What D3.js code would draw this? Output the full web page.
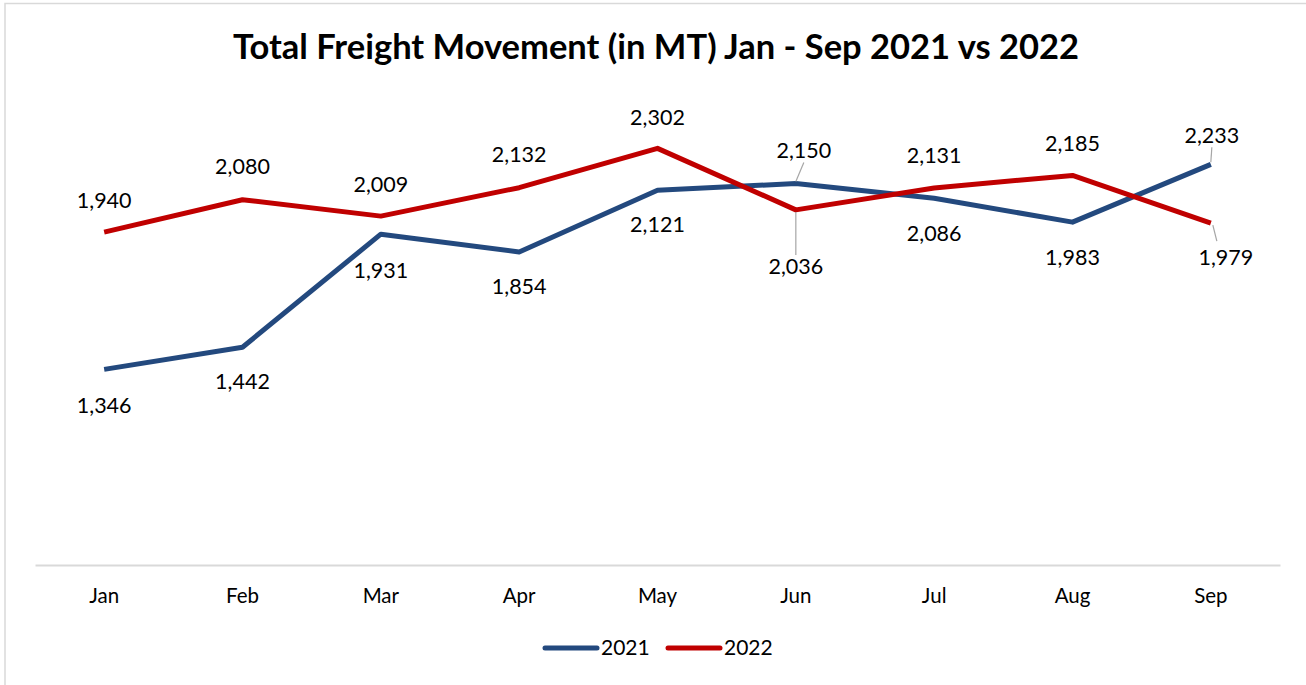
<!DOCTYPE html>
<html>
<head>
<meta charset="utf-8">
<script src="https://cdn.jsdelivr.net/npm/d3@7"></script>
<style>
  html, body { margin: 0; padding: 0; background: #fff; }
  svg { display: block; }
</style>
</head>
<body>
<svg id="chart" width="1306" height="685"></svg>
<script>
const months = ["Jan", "Feb", "Mar", "Apr", "May", "Jun", "Jul", "Aug", "Sep"];
const values2021 = [1346, 1442, 1931, 1854, 2121, 2150, 2086, 1983, 2233];
const values2022 = [1940, 2080, 2009, 2132, 2302, 2036, 2131, 2185, 1979];
const seriesNames = ["2021", "2022"];
const titleText = "Total Freight Movement (in MT) Jan - Sep 2021 vs 2022";

// label placement (offset of label centre from its point), not data
const labelDx2021 = [0, 0, 0, 0, 0, 8, 0, 0, 1];
const labelDy2021 = [36, 34, 36, 35, 34, -33, 35, 35, -29];
const leader2021  = [0, 0, 0, 0, 0, 1, 0, 0, 1];
const labelDx2022 = [0, 0, 0, 0, 0, 0, 0, 0, 15];
const labelDy2022 = [-32, -33, -32, -33, -31, 57, -32, -32, 34];
const leader2022  = [0, 0, 0, 0, 0, 1, 0, 0, 1];

const colors = ["#23497E", "#C00000"];
const font = "Lato, 'Open Sans', sans-serif";

const svg = d3.select("#chart");

// chart border
svg.append("rect")
  .attr("x", 5).attr("y", 3.5).attr("width", 1320).attr("height", 700)
  .attr("fill", "none").attr("stroke", "#d9d9d9").attr("stroke-width", 1.5);

// title
svg.append("text")
  .attr("x", 656).attr("y", 59)
  .attr("text-anchor", "middle")
  .attr("font-family", font).attr("font-weight", "bold").attr("font-size", 34.5)
  .attr("fill", "#000")
  .text(titleText);

const x = d3.scaleBand().domain(months).range([35, 1280]);
const y = d3.scaleLinear().domain([500, 2500]).range([565, 102.6]);
const cx = m => x(m) + x.bandwidth() / 2;

// category axis
const xAxis = d3.axisBottom(x).tickSize(0).tickPadding(23);
const gx = svg.append("g").attr("transform", "translate(0,565)").call(xAxis);
gx.select(".domain").attr("stroke", "#d9d9d9").attr("stroke-width", 2);
gx.selectAll("text")
  .attr("font-family", font).attr("font-size", 20.5).attr("fill", "#000");

const line = d3.line().x((d, i) => cx(months[i])).y(d => y(d));

const series = [
  { name: seriesNames[0], values: values2021, dx: labelDx2021, dy: labelDy2021, leader: leader2021, color: colors[0] },
  { name: seriesNames[1], values: values2022, dx: labelDx2022, dy: labelDy2022, leader: leader2022, color: colors[1] }
];

series.forEach(s => {
  svg.append("path")
    .datum(s.values)
    .attr("d", line)
    .attr("fill", "none")
    .attr("stroke", s.color)
    .attr("stroke-width", 5)
    .attr("stroke-linejoin", "round");
});

const fmt = d3.format(",");
series.forEach(s => {
  s.values.forEach((v, i) => {
    const px = cx(months[i]);
    const py = y(v);
    const lx = px + s.dx[i];
    const ly = py + s.dy[i];
    if (s.leader[i]) {
      const dir = Math.sign(s.dy[i]);
      const diag = s.dx[i] > 8;
      svg.append("line")
        .attr("x1", px + (diag ? 2 : 0)).attr("y1", py + dir * 2)
        .attr("x2", lx - (diag ? 9 : 0)).attr("y2", ly - dir * 12 - (diag ? 4 : 0))
        .attr("stroke", "#a6a6a6").attr("stroke-width", 1.2);
    }
    svg.append("text")
      .attr("x", lx).attr("y", ly)
      .attr("dy", "0.35em")
      .attr("text-anchor", "middle")
      .attr("font-family", font).attr("font-size", 21.5).attr("fill", "#000")
      .text(fmt(v));
  });
});

// legend
const legendX = [545, 668];
series.forEach((s, i) => {
  const g = svg.append("g").attr("transform", `translate(${legendX[i]},648)`);
  g.append("line").attr("x1", 0).attr("x2", 52).attr("y1", 0).attr("y2", 0)
    .attr("stroke", s.color).attr("stroke-width", 5).attr("stroke-linecap", "round");
  g.append("text").attr("x", 56).attr("y", 0).attr("dy", "0.35em")
    .attr("font-family", font).attr("font-size", 21).attr("fill", "#000")
    .text(s.name);
});
</script>
</body>
</html>
